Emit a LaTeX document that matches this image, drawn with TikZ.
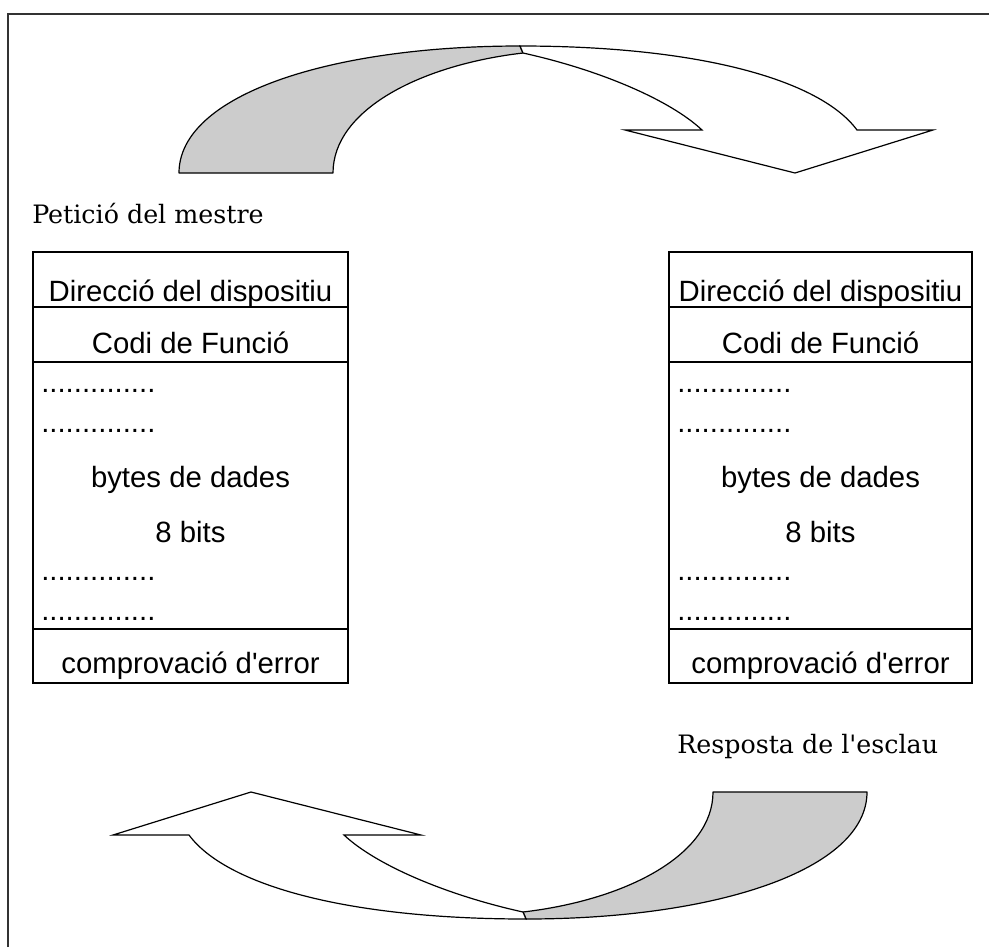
\documentclass[tikz,border=0pt]{standalone}
\usepackage{fontspec}
\setmainfont{Liberation Sans}
\newfontfamily\labelserif{DejaVu Serif}
\definecolor{bandgray}{RGB}{204,204,204}
\definecolor{framegray}{RGB}{51,51,51}
\tikzset{
  cell/.style={draw=black, line width=0.9pt},
  celltext/.style={font=\fontsize{22}{26}\selectfont, anchor=base, inner sep=0pt},
  dotrow/.style={font=\fontsize{22}{26}\selectfont, anchor=base west, inner sep=0pt},
  caption/.style={font=\labelserif\fontsize{19}{23}\selectfont, anchor=base west, inner sep=0pt},
  backband/.style={draw=black, fill=bandgray, line width=0.9pt, line join=round},
  frontband/.style={draw=black, fill=white, line width=0.9pt, line join=miter},
  frameline/.style={draw=framegray, line width=1.6pt}
}
\begin{document}
\begin{tikzpicture}[x=0.75pt, y=-0.75pt]
\useasboundingbox (0,0) rectangle (989,947);
% frame (top and left edges)
\draw[frameline] (8,947) -- (8,14) -- (989,14);

% curved arrow (top) and its rotated copy (bottom)
\foreach \ang in {0,180}{
  \begin{scope}[rotate around={\ang:(523,482.5)}]
    \path[backband] (179,173) .. controls (179,95) and (330,46) .. (520,46)
      -- (523,53) .. controls (420,65) and (333,110) .. (333,173) -- cycle;
    \path[frontband] (523,53) .. controls (600,70) and (670,100) .. (702,130)
      -- (625,130) -- (795,173) -- (933,130) -- (857,130)
      .. controls (820,80) and (700,46) .. (520,46) -- cycle;
  \end{scope}
}

% captions
\node[caption] (req) at (32,223) {Petició del mestre};
\node[caption] (resp) at (677,753) {Resposta de l\textquotesingle esclau};

% the two frames
\foreach \l/\r/\n in {33/348/L, 669/972/R}{
  \pgfmathsetmacro\cx{(\l+\r)/2}
  \draw[cell] (\l,252) rectangle (\r,683);
  \draw[cell] (\l,307) -- (\r,307);
  \draw[cell] (\l,362) -- (\r,362);
  \draw[cell] (\l,629) -- (\r,629);
  \node[celltext] (addr\n) at (\cx,301) {Direcció del dispositiu};
  \node[celltext] (func\n) at (\cx,353) {Codi de Funció};
  \node[dotrow] (dotsa\n) at (\l+8,392) {..............};
  \node[dotrow] (dotsb\n) at (\l+8,432) {..............};
  \node[celltext] (data\n) at (\cx,487) {bytes de dades};
  \node[celltext] (bits\n) at (\cx,542) {8 bits};
  \node[dotrow] (dotsc\n) at (\l+8,580) {..............};
  \node[dotrow] (dotsd\n) at (\l+8,620) {..............};
  \node[celltext] (crc\n) at (\cx,673) {comprovació d\textquotesingle error};
}
\end{tikzpicture}
\end{document}
